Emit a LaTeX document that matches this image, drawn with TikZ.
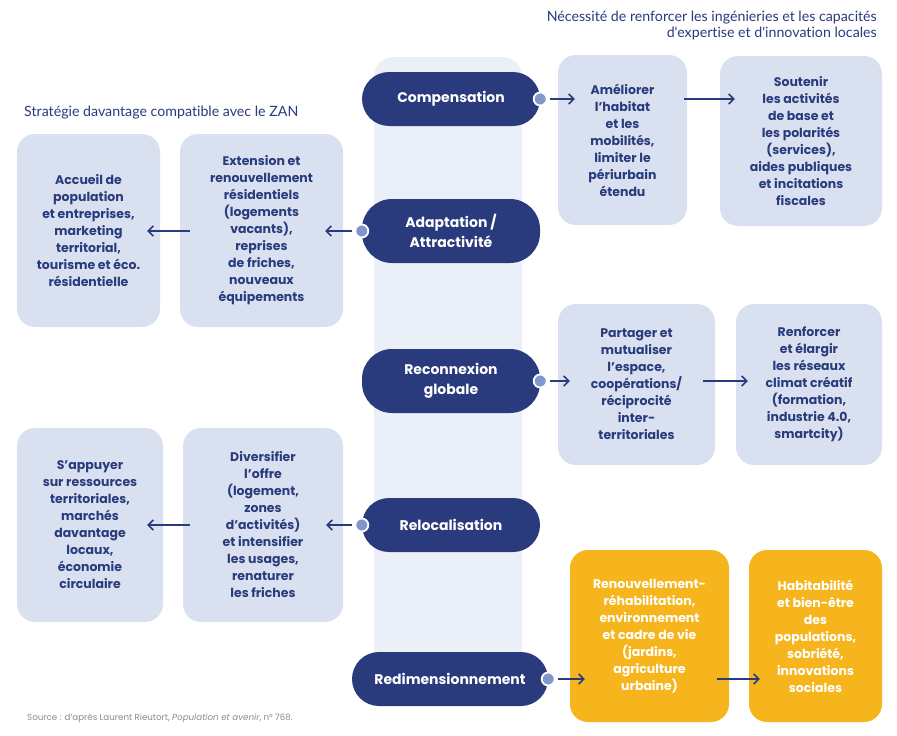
\documentclass[tikz,border=0pt]{standalone}
\usepackage{fontspec}
\setmainfont{Poppins}
\newfontfamily\hdfont[Ligatures={NoCommon,NoRare}]{Lato}
\usetikzlibrary{arrows.meta,positioning}
\definecolor{navy}{HTML}{2A3B7D}
\definecolor{lbox}{HTML}{D9E1F0}
\definecolor{colbg}{HTML}{EAEFF8}
\definecolor{orng}{HTML}{F6B51C}
\definecolor{dotc}{HTML}{7F97CC}
\definecolor{srcgray}{HTML}{8C8C8C}
\tikzset{
  box/.style={rectangle, rounded corners=18pt, fill=lbox, text=navy, align=center, inner sep=0pt,
    font=\fontsize{12.5}{17}\selectfont\bfseries},
  obox/.style={box, fill=orng, text=white},
  pill/.style={rectangle, rounded corners=27pt, fill=navy, text=white, align=center, inner sep=0pt,
    minimum height=54pt, font=\fontsize{14}{20}\selectfont\bfseries},
  dotn/.style={circle, fill=dotc, draw=white, line width=1.8pt, inner sep=0pt, minimum size=13pt},
  arr/.style={draw=navy, line width=1.8pt, -{Straight Barb[length=5pt,width=10pt,line width=1.6pt]}},
  hd/.style={text=navy, font=\hdfont\fontsize{14.2}{16}\selectfont, inner sep=0pt}
}
\begin{document}
\begin{tikzpicture}[x=1pt,y=-1pt]
\useasboundingbox[fill=white] (0,0) rectangle (897,736);
% central column
\fill[colbg, rounded corners=20pt] (374,57) rectangle (522,705);

% headers
\node[hd, align=right, anchor=north east] (hdr) at (877,11) {Nécessité de renforcer les ingénieries et les capacités\\d'expertise et d'innovation locales};
\node[hd, anchor=west] (hdl) at (24,113) {Stratégie davantage compatible avec le ZAN};

% pills
\node[pill, minimum width=178pt] (comp) at (451,99) {Compensation};
\node[pill, minimum width=178pt, minimum height=64pt, rounded corners=30pt] (adap) at (451,231) {Adaptation /\\Attractivité};
\node[pill, minimum width=178pt, minimum height=64pt, rounded corners=30pt] (reco) at (451,381) {Reconnexion\\globale};
\node[pill, minimum width=178pt] (relo) at (451,525) {Relocalisation};
\node[pill, minimum width=196pt] (redi) at (450,679) {Redimensionnement};

% right boxes
\node[box, minimum width=129pt, minimum height=170pt] (amel) at (622.5,140) {Améliorer\\l’habitat\\et les\\mobilités,\\limiter le\\périurbain\\étendu};
\node[box, minimum width=162pt, minimum height=170pt] (sout) at (801,141) {Soutenir\\les activités\\de base et\\les polarités\\(services),\\aides publiques\\et incitations\\fiscales};
\node[box, minimum width=157pt, minimum height=161pt] (part) at (636.5,384.5) {Partager et\\mutualiser\\l’espace,\\coopérations/\\réciprocité\\inter-\\territoriales};
\node[box, minimum width=146pt, minimum height=161pt] (renf) at (809,384.5) {Renforcer\\et élargir\\les réseaux\\climat créatif\\(formation,\\industrie 4.0,\\smartcity)};
\node[obox, minimum width=159pt, minimum height=172pt] (renou) at (649.5,636) {Renouvellement-\\réhabilitation,\\environnement\\et cadre de vie\\(jardins,\\agriculture\\urbaine)};
\node[obox, minimum width=133pt, minimum height=172pt] (habi) at (815.5,636) {Habitabilité\\et bien-être\\des\\populations,\\sobriété,\\innovations\\sociales};

% left boxes
\node[box, minimum width=143pt, minimum height=193pt] (accu) at (88.5,230.5) {Accueil de\\population\\et entreprises,\\marketing\\territorial,\\tourisme et éco.\\résidentielle};
\node[box, minimum width=163pt, minimum height=193pt] (exte) at (261.5,230.5) {Extension et\\renouvellement\\résidentiels\\(logements\\vacants),\\reprises\\de friches,\\nouveaux\\équipements};
\node[box, minimum width=146pt, minimum height=194pt] (sapp) at (90,525) {S’appuyer\\sur ressources\\territoriales,\\marchés\\davantage\\locaux,\\économie\\circulaire};
\node[box, minimum width=160pt, minimum height=194pt] (dive) at (263,525) {Diversifier\\l’offre\\(logement,\\zones\\d’activités)\\et intensifier\\les usages,\\renaturer\\les friches};

% dots
\node[dotn] (dcomp) at (comp.east) {};
\node[dotn] (dadap) at (adap.west) {};
\node[dotn] (dreco) at (reco.east) {};
\node[dotn] (drelo) at (relo.west) {};
\node[dotn] (dredi) at (redi.east) {};

% arrows
\draw[arr] (dcomp.east) ++(2,0) -- ([xshift=17pt]amel.west |- dcomp);
\draw[arr] ([xshift=-3pt]amel.east |- dcomp) -- ([xshift=15pt]sout.west |- dcomp);
\draw[arr] (dadap.west) ++(-2,0) -- ([xshift=-18pt]exte.east |- dadap);
\draw[arr] ([xshift=10pt]exte.west |- dadap) -- ([xshift=-13pt]accu.east |- dadap);
\draw[arr] (dreco.east) ++(2,0) -- ([xshift=12pt]part.west |- dreco);
\draw[arr] ([xshift=-12pt]part.east |- dreco) -- ([xshift=12pt]renf.west |- dreco);
\draw[arr] (drelo.west) ++(-2,0) -- ([xshift=-17pt]dive.east |- drelo);
\draw[arr] ([xshift=7pt]dive.west |- drelo) -- ([xshift=-16pt]sapp.east |- drelo);
\draw[arr] (dredi.east) ++(2,0) -- ([xshift=15pt]renou.west |- dredi);
\draw[arr] ([xshift=-12pt]renou.east |- dredi) -- ([xshift=11pt]habi.west |- dredi);

% source
\node[anchor=west, text=srcgray, inner sep=0pt, font=\fontsize{8.7}{10}\selectfont] (src) at (27,718) {Source : d’après Laurent Rieutort, \textit{Population et avenir}, n° 768.};
\end{tikzpicture}
\end{document}
